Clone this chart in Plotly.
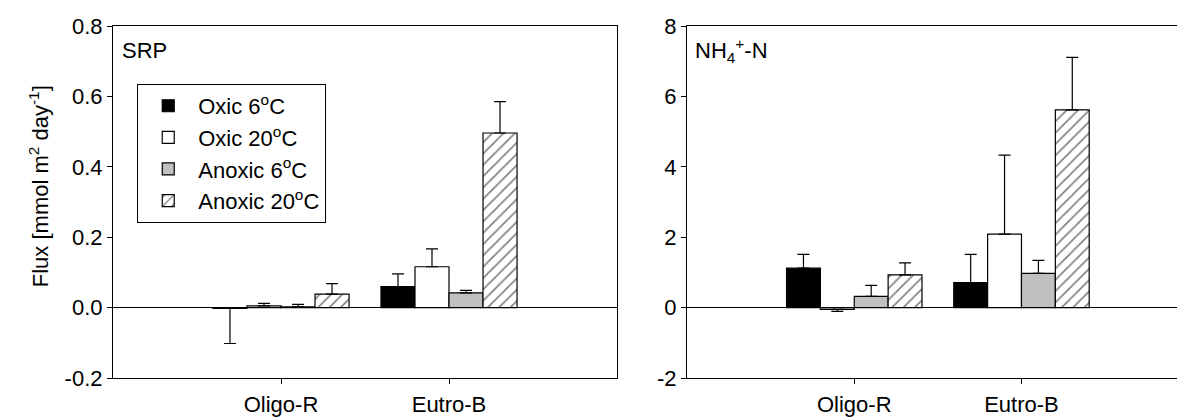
import plotly.graph_objects as go

categories = ["Oligo-R", "Eutro-B"]
cat_pos = [1, 2]
series = ["Oxic 6<sup>o</sup>C", "Oxic 20<sup>o</sup>C", "Anoxic 6<sup>o</sup>C", "Anoxic 20<sup>o</sup>C"]

# SRP flux (mmol m-2 day-1) and one-sided SE
srp_oxic6 = [-0.002, 0.060]
srp_oxic20 = [0.005, 0.116]
srp_anoxic6 = [0.002, 0.042]
srp_anoxic20 = [0.038, 0.496]
srp_err_oxic6 = [0.100, 0.036]
srp_err_oxic20 = [0.007, 0.051]
srp_err_anoxic6 = [0.007, 0.007]
srp_err_anoxic20 = [0.030, 0.089]

# NH4+-N flux and one-sided SE
nh4_oxic6 = [1.12, 0.71]
nh4_oxic20 = [-0.05, 2.09]
nh4_anoxic6 = [0.32, 0.97]
nh4_anoxic20 = [0.93, 5.62]
nh4_err_oxic6 = [0.39, 0.80]
nh4_err_oxic20 = [0.06, 2.24]
nh4_err_anoxic6 = [0.31, 0.37]
nh4_err_anoxic20 = [0.34, 1.49]

# tick labels
srp_ticks = [-0.2, 0.0, 0.2, 0.4, 0.6, 0.8]
srp_ticktext = ["-0.2", "0.0", "0.2", "0.4", "0.6", "0.8"]
nh4_ticks = [-2, 0, 2, 4, 6, 8]
nh4_ticktext = ["-2", "0", "2", "4", "6", "8"]

FONT = "Arial, Liberation Sans, sans-serif"
FS = 22
fills = ["black", "white", "#c0c0c0", "white"]
patterns = ["", "", "", "/"]

def one_sided(vals, errs):
    up = [e if v >= 0 else 0 for v, e in zip(vals, errs)]
    down = [e if v < 0 else 0 for v, e in zip(vals, errs)]
    return dict(type="data", array=up, arrayminus=down, symmetric=False,
                color="black", thickness=1.2, width=6, visible=True)

fig = go.Figure()
panels = [
    ("x", "y", [srp_oxic6, srp_oxic20, srp_anoxic6, srp_anoxic20],
     [srp_err_oxic6, srp_err_oxic20, srp_err_anoxic6, srp_err_anoxic20], True),
    ("x2", "y2", [nh4_oxic6, nh4_oxic20, nh4_anoxic6, nh4_anoxic20],
     [nh4_err_oxic6, nh4_err_oxic20, nh4_err_anoxic6, nh4_err_anoxic20], False),
]
for xa, ya, vals_list, errs_list, show in panels:
    for i, (name, vals, errs) in enumerate(zip(series, vals_list, errs_list)):
        fig.add_trace(go.Bar(
            x=cat_pos, y=vals, name=name, xaxis=xa, yaxis=ya,
            legendgroup=name, showlegend=show,
            marker=dict(color=fills[i], line=dict(color="black", width=1.2),
                        pattern=dict(shape=patterns[i], fgcolor="black", bgcolor="white",
                                     size=8, solidity=0.2)),
            error_y=one_sided(vals, errs),
        ))

axis_common = dict(showline=True, linecolor="black", linewidth=1.2, showgrid=False,
                   ticks="outside", ticklen=5, tickcolor="black", tickwidth=1.2,
                   automargin=False,
                   tickfont=dict(family=FONT, size=FS, color="black"))

fig.update_layout(
    width=1177, height=417,
    margin=dict(l=113, r=0, t=26, b=39, autoexpand=False),
    paper_bgcolor="white", plot_bgcolor="white",
    barmode="group", bargap=0.19, bargroupgap=0,
    font=dict(family=FONT, color="black"),
    xaxis=dict(domain=[0, 0.4737], range=[0, 3], tickvals=cat_pos, ticktext=categories,
               mirror=True, zeroline=False, ticklabelstandoff=1, **axis_common),
    yaxis=dict(range=[-0.2, 0.8], tickvals=srp_ticks, ticktext=srp_ticktext,
               mirror=True, zeroline=True, zerolinecolor="black",
               zerolinewidth=1.2, **axis_common),
    xaxis2=dict(domain=[0.5395, 1], range=[0, 2.93], tickvals=cat_pos, ticktext=categories,
                mirror=True, zeroline=False, ticklabelstandoff=1, anchor="y2", **axis_common),
    yaxis2=dict(range=[-2, 8], tickvals=nh4_ticks, ticktext=nh4_ticktext, anchor="x2",
                mirror=False, zeroline=True, zerolinecolor="black", zerolinewidth=1.2,
                **axis_common),
    legend=dict(x=0.0226, y=0.836, xanchor="left", yanchor="top",
                bgcolor="white", bordercolor="black", borderwidth=1.2,
                font=dict(family=FONT, size=FS, color="black"),
                itemwidth=50, tracegroupgap=0),
    annotations=[
        dict(text="Flux [mmol m<sup>2</sup> day<sup>-1</sup>]", textangle=-90,
             xref="paper", yref="paper", x=-0.0695, y=0.545, xanchor="center", yanchor="middle",
             showarrow=False, font=dict(family=FONT, size=FS, color="black")),
        dict(text="SRP", xref="x domain", yref="y domain", x=0.014, y=0.93,
             xanchor="left", yanchor="middle", showarrow=False,
             font=dict(family=FONT, size=FS, color="black")),
        dict(text="NH<sub>4</sub><sup>+</sup>-N", xref="x2 domain", yref="y2 domain", x=0.012, y=0.93,
             xanchor="left", yanchor="middle", showarrow=False,
             font=dict(family=FONT, size=FS, color="black")),
    ],
)

fig.write_html("out.html", config={"displayModeBar": False},
               post_script="document.body.style.margin='0';document.body.style.overflow='hidden';")
